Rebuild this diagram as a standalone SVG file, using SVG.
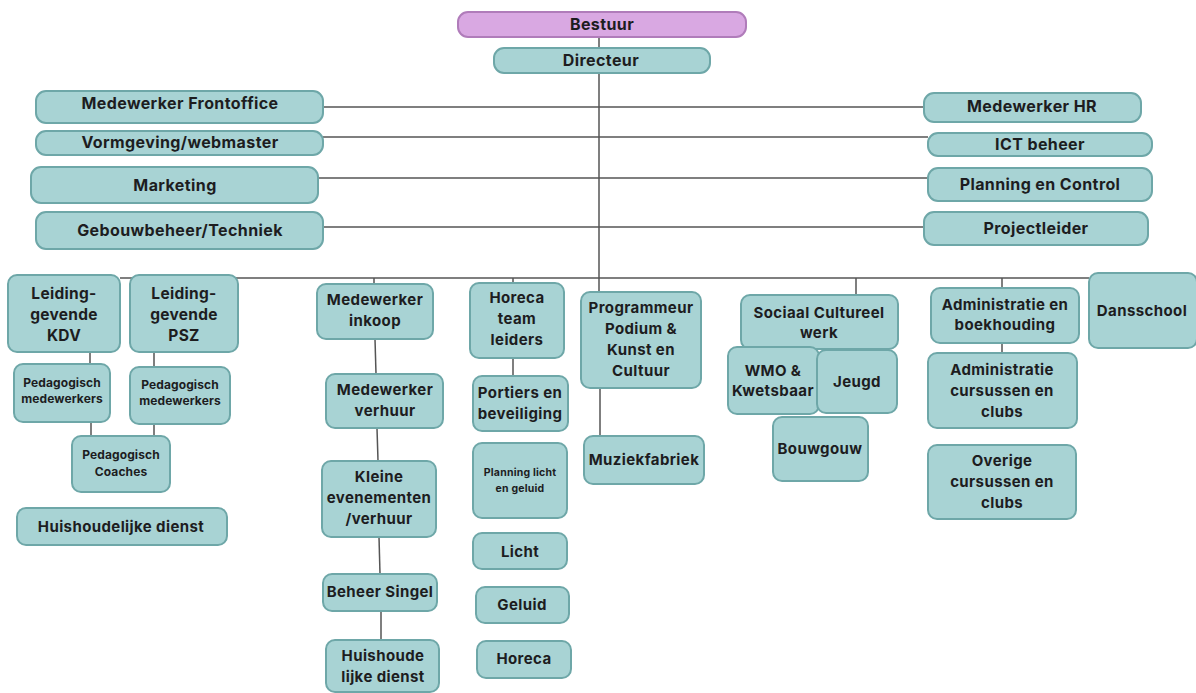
<svg xmlns="http://www.w3.org/2000/svg" width="1196" height="693" viewBox="0 0 1196 693">
<style>
.b{fill:#a8d3d4;stroke:#6ea7a8;stroke-width:2}
.p{fill:#d9a8e2;stroke:#b07cba;stroke-width:2}
text{font-family:Inter,"Liberation Sans",sans-serif;font-weight:700;fill:#1d1d1f;text-anchor:middle;font-size:15px;letter-spacing:0.4px}
.t{font-size:16px;letter-spacing:0.4px}
.l{font-size:15.5px;letter-spacing:0.3px}
.s{font-size:12px;letter-spacing:0.1px}
.xs{font-size:10.5px;letter-spacing:0.2px}
.c line{stroke:#555;stroke-width:1.5}
</style>
<rect width="1196" height="693" fill="#ffffff"/>
<g class="c" id="connectors">
<line x1="599" y1="37" x2="599" y2="292"/>
<line x1="323" y1="107" x2="924" y2="107"/>
<line x1="323" y1="137" x2="928" y2="137"/>
<line x1="318" y1="178" x2="928" y2="178"/>
<line x1="323" y1="227" x2="924" y2="227"/>
<line x1="120" y1="278" x2="1089" y2="278"/>
<line x1="90" y1="352" x2="90" y2="364"/>
<line x1="154" y1="352" x2="154" y2="367"/>
<line x1="91" y1="422" x2="91" y2="436"/>
<line x1="154" y1="424" x2="154" y2="436"/>
<line x1="374" y1="278" x2="374" y2="284"/>
<line x1="375" y1="339" x2="376" y2="374"/>
<line x1="377" y1="428" x2="378" y2="461"/>
<line x1="379" y1="537" x2="380" y2="574"/>
<line x1="381" y1="611" x2="381" y2="640"/>
<line x1="513" y1="278" x2="513" y2="283"/>
<line x1="513" y1="358" x2="513" y2="376"/>
<line x1="600" y1="388" x2="600" y2="436"/>
<line x1="856" y1="278" x2="856" y2="295"/>
<line x1="1002" y1="278" x2="1002" y2="288"/>
<line x1="1002" y1="343" x2="1002" y2="353"/>
</g>
<g id="bestuur"><rect class="p" x="458" y="12" width="288" height="25" rx="10"/><text class="t" x="602" y="30">Bestuur</text></g>
<g id="directeur"><rect class="b" x="494" y="48" width="216" height="25" rx="10"/><text class="t" x="601" y="66">Directeur</text></g>
<g id="frontoffice"><rect class="b" x="36" y="91" width="287" height="32" rx="10"/><text class="t" x="180" y="109">Medewerker Frontoffice</text></g>
<g id="vormgeving"><rect class="b" x="36" y="131" width="287" height="24" rx="10"/><text class="t" x="180" y="148">Vormgeving/webmaster</text></g>
<g id="marketing"><rect class="b" x="31" y="167" width="287" height="36" rx="10"/><text class="t" x="175" y="191">Marketing</text></g>
<g id="gebouwbeheer"><rect class="b" x="36" y="212" width="287" height="37" rx="10"/><text class="t" x="180" y="236">Gebouwbeheer/Techniek</text></g>
<g id="hr"><rect class="b" x="924" y="93" width="217" height="29" rx="10"/><text class="t" x="1032" y="112">Medewerker HR</text></g>
<g id="ict"><rect class="b" x="928" y="133" width="224" height="23" rx="10"/><text class="t" x="1040" y="150">ICT beheer</text></g>
<g id="planning"><rect class="b" x="928" y="168" width="224" height="33" rx="10"/><text class="t" x="1040" y="190">Planning en Control</text></g>
<g id="projectleider"><rect class="b" x="924" y="212" width="224" height="33" rx="10"/><text class="t" x="1036" y="234">Projectleider</text></g>
<g id="kdv"><rect class="b" x="8" y="275" width="112" height="77" rx="9"/><text class="l" x="64" y="299">Leiding-<tspan x="64" dy="21">gevende</tspan><tspan x="64" dy="21">KDV</tspan></text></g>
<g id="psz"><rect class="b" x="130" y="275" width="108" height="77" rx="9"/><text class="l" x="184" y="299">Leiding-<tspan x="184" dy="21">gevende</tspan><tspan x="184" dy="21">PSZ</tspan></text></g>
<g id="ped-kdv"><rect class="b" x="14" y="364" width="96" height="58" rx="9"/><text class="s" x="62" y="387">Pedagogisch<tspan x="62" dy="16">medewerkers</tspan></text></g>
<g id="ped-psz"><rect class="b" x="130" y="367" width="100" height="57" rx="9"/><text class="s" x="180" y="389">Pedagogisch<tspan x="180" dy="16">medewerkers</tspan></text></g>
<g id="coaches"><rect class="b" x="72" y="436" width="98" height="56" rx="9"/><text class="s" x="121" y="459">Pedagogisch<tspan x="121" dy="17">Coaches</tspan></text></g>
<g id="huishoudelijke"><rect class="b" x="17" y="508" width="210" height="37" rx="9"/><text x="121" y="532">Huishoudelijke dienst</text></g>
<g id="inkoop"><rect class="b" x="317" y="284" width="116" height="55" rx="9"/><text x="375" y="305">Medewerker<tspan x="375" dy="21">inkoop</tspan></text></g>
<g id="verhuur"><rect class="b" x="326" y="374" width="117" height="54" rx="9"/><text x="385" y="395">Medewerker<tspan x="385" dy="21">verhuur</tspan></text></g>
<g id="kleine"><rect class="b" x="322" y="461" width="114" height="76" rx="9"/><text x="379" y="482">Kleine<tspan x="379" dy="21">evenementen</tspan><tspan x="379" dy="21">/verhuur</tspan></text></g>
<g id="singel"><rect class="b" x="323" y="574" width="114" height="37" rx="9"/><text x="380" y="597">Beheer Singel</text></g>
<g id="huishoude"><rect class="b" x="326" y="640" width="113" height="52" rx="9"/><text x="383" y="661">Huishoude<tspan x="383" dy="21">lijke dienst</tspan></text></g>
<g id="horeca-tl"><rect class="b" x="470" y="283" width="94" height="75" rx="9"/><text x="517" y="303">Horeca<tspan x="517" dy="21">team</tspan><tspan x="517" dy="21">leiders</tspan></text></g>
<g id="portiers"><rect class="b" x="473" y="376" width="95" height="55" rx="9"/><text x="520" y="398">Portiers en<tspan x="520" dy="21">beveiliging</tspan></text></g>
<g id="planning-lg"><rect class="b" x="473" y="443" width="94" height="75" rx="9"/><text class="xs" x="520" y="476">Planning licht<tspan x="520" dy="16">en geluid</tspan></text></g>
<g id="licht"><rect class="b" x="473" y="533" width="94" height="36" rx="9"/><text x="520" y="557">Licht</text></g>
<g id="geluid"><rect class="b" x="476" y="587" width="93" height="36" rx="9"/><text x="522" y="610">Geluid</text></g>
<g id="horeca"><rect class="b" x="477" y="641" width="94" height="37" rx="9"/><text x="524" y="664">Horeca</text></g>
<g id="programmeur"><rect class="b" x="581" y="292" width="120" height="96" rx="9"/><text x="641" y="313">Programmeur<tspan x="641" dy="21">Podium &amp;</tspan><tspan x="641" dy="21">Kunst en</tspan><tspan x="641" dy="21">Cultuur</tspan></text></g>
<g id="muziekfabriek"><rect class="b" x="584" y="436" width="120" height="48" rx="9"/><text x="644" y="465">Muziekfabriek</text></g>
<g id="sociaal"><rect class="b" x="741" y="295" width="157" height="54" rx="9"/><text x="819" y="318">Sociaal Cultureel<tspan x="819" dy="20">werk</tspan></text></g>
<g id="wmo"><rect class="b" x="728" y="347" width="91" height="67" rx="9"/><text x="773" y="376">WMO &amp;<tspan x="773" dy="20">Kwetsbaar</tspan></text></g>
<g id="jeugd"><rect class="b" x="817" y="350" width="80" height="63" rx="9"/><text x="857" y="387">Jeugd</text></g>
<g id="bouwgouw"><rect class="b" x="773" y="417" width="95" height="64" rx="9"/><text x="820" y="454">Bouwgouw</text></g>
<g id="admin-boek"><rect class="b" x="931" y="288" width="148" height="55" rx="9"/><text x="1005" y="310">Administratie en<tspan x="1005" dy="20">boekhouding</tspan></text></g>
<g id="admin-curs"><rect class="b" x="928" y="353" width="149" height="75" rx="9"/><text x="1002" y="375">Administratie<tspan x="1002" dy="21">cursussen en</tspan><tspan x="1002" dy="21">clubs</tspan></text></g>
<g id="overige"><rect class="b" x="928" y="445" width="148" height="74" rx="9"/><text x="1002" y="466">Overige<tspan x="1002" dy="21">cursussen en</tspan><tspan x="1002" dy="21">clubs</tspan></text></g>
<g id="dansschool"><rect class="b" x="1089" y="273" width="108" height="75" rx="9"/><text x="1142" y="316">Dansschool</text></g>
</svg>
